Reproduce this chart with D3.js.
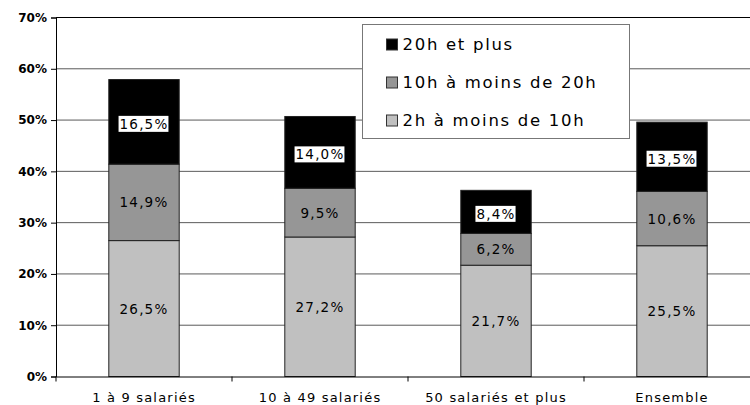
<!DOCTYPE html>
<html>
<head>
<meta charset="utf-8">
<script src="https://cdn.jsdelivr.net/npm/d3@7"></script>
<style>
  body { margin: 0; background: #fff; }
  svg { font-family: "DejaVu Sans", Verdana, sans-serif; }
</style>
</head>
<body>
<div id="chart"></div>
<script>
const categories = ['1 à 9 salariés', '10 à 49 salariés', '50 salariés et plus', 'Ensemble'];
const series = ['2h à moins de 10h', '10h à moins de 20h', '20h et plus'];
const v2a10 = [26.5, 27.2, 21.7, 25.5];
const v10a20 = [14.9, 9.5, 6.2, 10.6];
const v20plus = [16.5, 14.0, 8.4, 13.5];
const yTicks = [0, 10, 20, 30, 40, 50, 60, 70];

const colors = ['#c0c0c0', '#969696', '#000000'];

const rows = categories.map((c, i) => ({
  cat: c,
  '2h à moins de 10h': v2a10[i],
  '10h à moins de 20h': v10a20[i],
  '20h et plus': v20plus[i]
}));

const width = 750, height = 405;
const margin = { top: 17.5, right: -10, bottom: 28.5, left: 56 };

const svg = d3.select('#chart').append('svg')
  .attr('width', width)
  .attr('height', height);

const x = d3.scaleBand()
  .domain(categories)
  .range([margin.left, width - margin.right])
  .paddingInner(0.6)
  .paddingOuter(0.3);

const y = d3.scaleLinear()
  .domain([0, 70])
  .range([height - margin.bottom, margin.top]);

// grille
svg.append('g')
  .selectAll('line')
  .data(yTicks.filter(d => d > 0))
  .join('line')
  .attr('x1', margin.left)
  .attr('x2', width - margin.right)
  .attr('y1', d => y(d))
  .attr('y2', d => y(d))
  .attr('stroke', d => d === 70 ? '#000' : '#5a5a5a')
  .attr('stroke-width', 1);

// axe Y
const yAxis = svg.append('g')
  .attr('transform', `translate(${margin.left},0)`)
  .call(d3.axisLeft(y).tickValues(yTicks).tickFormat(d => d + '%').tickSize(5).tickPadding(4));
yAxis.selectAll('text')
  .attr('font-size', 12)
  .attr('font-weight', 'bold')
  .attr('font-family', '"DejaVu Sans", Verdana, sans-serif')
  .attr('fill', '#000');
yAxis.select('.domain').attr('stroke', '#000');

// barres empilées
const stacked = d3.stack().keys(series)(rows);

const layers = svg.append('g')
  .selectAll('g')
  .data(stacked)
  .join('g')
  .attr('fill', (d, i) => colors[i]);

layers.selectAll('rect')
  .data(d => d)
  .join('rect')
  .attr('x', d => x(d.data.cat))
  .attr('y', d => y(d[1]))
  .attr('width', x.bandwidth())
  .attr('height', d => y(d[0]) - y(d[1]))
  .attr('stroke', '#222')
  .attr('stroke-width', 1);

// axe X
const xAxis = svg.append('g')
  .attr('transform', `translate(0,${y(0)})`)
  .call(d3.axisBottom(x).tickSize(0).tickPadding(16));
xAxis.select('.domain').attr('stroke', '#000');
xAxis.selectAll('text')
  .attr('font-size', 13)
  .attr('font-family', '"DejaVu Sans", Verdana, sans-serif')
  .attr('letter-spacing', 1.2)
  .attr('fill', '#000');

// petites graduations entre catégories
const step = x.step();
xAxis.append('g')
  .selectAll('line')
  .data(categories)
  .join('line')
  .attr('x1', d => x(d) - (step - x.bandwidth()) / 2)
  .attr('x2', d => x(d) - (step - x.bandwidth()) / 2)
  .attr('y1', 0)
  .attr('y2', 5)
  .attr('stroke', '#000');

// étiquettes des valeurs
const fmt = v => d3.format('.1f')(v).replace('.', ',') + '%';
stacked.forEach((layer, li) => {
  layer.forEach(d => {
    const cx = x(d.data.cat) + x.bandwidth() / 2;
    const cy = (y(d[0]) + y(d[1])) / 2 + (li === 2 ? 2 : 0);
    const g = svg.append('g');
    const t = g.append('text')
      .attr('x', cx)
      .attr('y', cy)
      .attr('text-anchor', 'middle')
      .attr('dominant-baseline', 'central')
      .attr('font-size', 13.5)
      .attr('letter-spacing', 1.2)
      .attr('fill', '#000')
      .text(fmt(d[1] - d[0]));
    if (li === 2) {
      const bb = t.node().getBBox();
      g.insert('rect', 'text')
        .attr('x', bb.x - 1)
        .attr('y', bb.y)
        .attr('width', bb.width + 1)
        .attr('height', bb.height)
        .attr('fill', '#fff');
    }
  });
});

// légende
const legend = svg.append('g').attr('transform', 'translate(362.5,24.5)');
legend.append('rect')
  .attr('width', 267)
  .attr('height', 114)
  .attr('fill', '#fff')
  .attr('stroke', '#777');

const legendItems = series.slice().reverse();
legendItems.forEach((s, i) => {
  const cy = 20 + i * 38;
  legend.append('rect')
    .attr('x', 24)
    .attr('y', cy - 5.5)
    .attr('width', 11)
    .attr('height', 11)
    .attr('fill', colors[series.indexOf(s)])
    .attr('stroke', '#333');
  legend.append('text')
    .attr('x', 40)
    .attr('y', cy)
    .attr('dominant-baseline', 'central')
    .attr('font-size', 16.5)
    .attr('letter-spacing', 1.7)
    .attr('fill', '#000')
    .text(s);
});
</script>
</body>
</html>
